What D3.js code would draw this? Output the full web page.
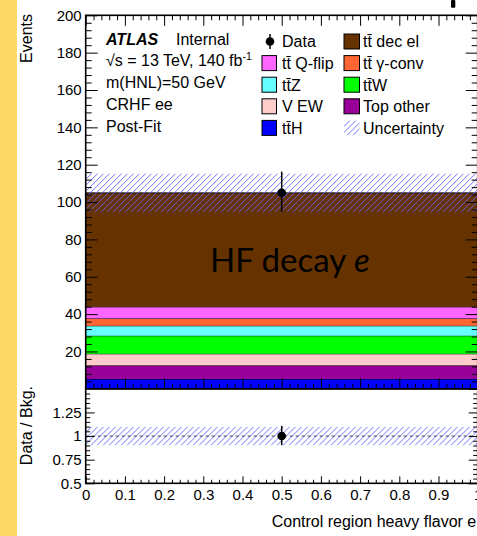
<!DOCTYPE html>
<html><head><meta charset="utf-8">
<script src="https://cdn.jsdelivr.net/npm/d3@7"></script>
<style>
html,body{margin:0;padding:0;background:#fff;}
svg{display:block;font-family:"Liberation Sans",Arial,Helvetica,sans-serif;}
</style></head>
<body>
<script>
// ---------------- data ----------------
const binEdges = [0, 1];
const samples = ["t\u0074\u0304H", "Top other", "V EW", "t\u0074\u0304W", "t\u0074\u0304Z", "t\u0074\u0304 \u03b3-conv", "t\u0074\u0304 Q-flip", "t\u0074\u0304 dec el"];
const sampleValues = [5.25, 7.3, 6.2, 9.65, 5.35, 3.9, 6.25, 61.0];
const sampleColors = ["#0000ff", "#990099", "#ffcccc", "#00ff00", "#66ffff", "#ff6633", "#ff66ff", "#663300"];
const dataX = [0.5];
const dataY = [105];
const dataErrUp = [11.3];
const dataErrDown = [10.2];
const bkgUncertainty = [10.4];
const yTicks = [20, 40, 60, 80, 100, 120, 140, 160, 180, 200];
const ratioTicks = [0.5, 0.75, 1, 1.25];
const xTicks = [0, 0.1, 0.2, 0.3, 0.4, 0.5, 0.6, 0.7, 0.8, 0.9, 1];
const infoLines = ["\u221as = 13 TeV, 140 fb", "m(HNL)=50 GeV", "CRHF ee", "Post-Fit"];
const legendCol1 = ["Data", "t\u0074\u0304 Q-flip", "t\u0074\u0304Z", "V EW", "t\u0074\u0304H"];
const legendCol2 = ["t\u0074\u0304 dec el", "t\u0074\u0304 \u03b3-conv", "t\u0074\u0304W", "Top other", "Uncertainty"];

// ---------------- layout ----------------
const W = 477, H = 536;
const HATCH = "#6464ff";
const svg = d3.select("body").append("svg").attr("width", W).attr("height", H);
const defs = svg.append("defs");
let clipId = 0;
function hatchRect(x0, y0, w, h) {
  const id = "hc" + (clipId++);
  defs.append("clipPath").attr("id", id).append("rect").attr("x", x0).attr("y", y0).attr("width", w).attr("height", h);
  const g = svg.append("g").attr("clip-path", `url(#${id})`);
  const step = 6;
  d3.range(x0 - h - step, x0 + w + step, step).forEach(s => {
    g.append("line").attr("x1", s).attr("y1", y0 + h).attr("x2", s + h).attr("y2", y0)
      .attr("stroke", HATCH).attr("stroke-width", 0.9);
  });
}

// yellow strip
svg.append("rect").attr("x", 0).attr("y", 0).attr("width", 17).attr("height", H).attr("fill", "#ffd966");

const x = d3.scaleLinear().domain([0, 1]).range([85.7, 477.7]);
const y = d3.scaleLinear().domain([0, 200]).range([388.8, 15.3]);
const yr = d3.scaleLinear().domain([0.5, 1.5]).range([483.3, 388.8]);

// ---------------- stack ----------------
let cum = 0;
const stack = sampleValues.map((v, i) => { const o = {lo: cum, hi: cum + v, c: sampleColors[i]}; cum += v; return o; });
const total = cum;
const gS = svg.append("g");
stack.forEach(s => {
  gS.append("rect").attr("x", x(binEdges[0])).attr("width", x(binEdges[1]) - x(binEdges[0]))
    .attr("y", y(s.hi)).attr("height", y(s.lo) - y(s.hi)).attr("fill", s.c);
  gS.append("line").attr("x1", x(binEdges[0])).attr("x2", x(binEdges[1]))
    .attr("y1", y(s.hi)).attr("y2", y(s.hi)).attr("stroke", "#000").attr("stroke-width", 1);
});
// uncertainty band
hatchRect(x(0), y(total + bkgUncertainty[0]), x(1) - x(0), y(total - bkgUncertainty[0]) - y(total + bkgUncertainty[0]));

// HF decay label
const hf = svg.append("text").attr("x", 210).attr("y", 271.5)
  .style("font-family", "Lato, 'Open Sans', sans-serif").style("font-size", "33px").attr("fill", "#000");
hf.append("tspan").text("HF decay ");
hf.append("tspan").style("font-style", "italic").text("e");

// data points
dataX.forEach((d, i) => {
  svg.append("line").attr("x1", x(d)).attr("x2", x(d)).attr("y1", y(dataY[i] + dataErrUp[i])).attr("y2", y(dataY[i] - dataErrDown[i]))
    .attr("stroke", "#000").attr("stroke-width", 1.5);
  svg.append("circle").attr("cx", x(d)).attr("cy", y(dataY[i])).attr("r", 4.3).attr("fill", "#000");
});

// ---------------- ratio panel ----------------
const relUnc = bkgUncertainty[0] / total;
hatchRect(x(0), yr(1 + relUnc), x(1) - x(0), yr(1 - relUnc) - yr(1 + relUnc));
svg.append("line").attr("x1", x(0)).attr("x2", x(1)).attr("y1", yr(1)).attr("y2", yr(1))
  .attr("stroke", "#444").attr("stroke-width", 1).attr("stroke-dasharray", "3,3");
dataX.forEach((d, i) => {
  const r = dataY[i] / total;
  svg.append("line").attr("x1", x(d)).attr("x2", x(d))
    .attr("y1", yr(r + dataErrUp[i] / total)).attr("y2", yr(r - dataErrDown[i] / total))
    .attr("stroke", "#000").attr("stroke-width", 1.5);
  svg.append("circle").attr("cx", x(d)).attr("cy", yr(r)).attr("r", 4.3).attr("fill", "#000");
});

// ---------------- axes ----------------
function styleAxis(g) {
  g.select(".domain").remove();
  g.selectAll(".tick line").attr("stroke", "#000").attr("stroke-width", 1);
  g.selectAll(".tick text").attr("fill", "#000").style("font-size", "15px")
    .style("font-family", "'Liberation Sans', Arial, sans-serif");
}
const minorY = d3.range(0, 201, 4).filter(v => v % 20 !== 0);
svg.append("g").attr("transform", `translate(${x(0)},0)`)
  .call(d3.axisLeft(y).tickValues(yTicks).tickSizeInner(-12).tickSizeOuter(0).tickPadding(4).tickFormat(d3.format("d")))
  .call(styleAxis);
svg.append("g").attr("transform", `translate(${x(0)},0)`)
  .call(d3.axisLeft(y).tickValues(minorY).tickSizeInner(-6).tickSizeOuter(0).tickFormat(""))
  .call(styleAxis);
svg.append("g").attr("transform", `translate(${x(1)},0)`)
  .call(d3.axisRight(y).tickValues(yTicks).tickSizeInner(-12).tickSizeOuter(0).tickFormat(""))
  .call(styleAxis);
svg.append("g").attr("transform", `translate(${x(1)},0)`)
  .call(d3.axisRight(y).tickValues(minorY).tickSizeInner(-6).tickSizeOuter(0).tickFormat(""))
  .call(styleAxis);
const minorX = d3.range(0, 1.0001, 0.02).filter((v, i) => i % 5 !== 0);
svg.append("g").attr("transform", `translate(0,${y(200)})`)
  .call(d3.axisTop(x).tickValues(xTicks).tickSizeInner(-10.5).tickSizeOuter(0).tickFormat(""))
  .call(styleAxis);
svg.append("g").attr("transform", `translate(0,${y(200)})`)
  .call(d3.axisTop(x).tickValues(minorX).tickSizeInner(-5).tickSizeOuter(0).tickFormat(""))
  .call(styleAxis);
svg.append("g").attr("transform", `translate(0,${y(0)})`)
  .call(d3.axisBottom(x).tickValues(xTicks).tickSizeInner(-10.5).tickSizeOuter(0).tickFormat(""))
  .call(styleAxis);
svg.append("g").attr("transform", `translate(0,${y(0)})`)
  .call(d3.axisBottom(x).tickValues(minorX).tickSizeInner(-5).tickSizeOuter(0).tickFormat(""))
  .call(styleAxis);
const ratioMinor = d3.range(0.5, 1.5001, 0.05).filter(v => Math.abs(v * 4 - Math.round(v * 4)) > 1e-6);
svg.append("g").attr("transform", `translate(${x(0)},0)`)
  .call(d3.axisLeft(yr).tickValues(ratioTicks).tickSizeInner(-9).tickSizeOuter(0).tickPadding(4).tickFormat(d => d3.format("")(d)))
  .call(styleAxis);
svg.append("g").attr("transform", `translate(${x(0)},0)`)
  .call(d3.axisLeft(yr).tickValues(ratioMinor).tickSizeInner(-4.5).tickSizeOuter(0).tickFormat(""))
  .call(styleAxis);
svg.append("g").attr("transform", `translate(${x(1)},0)`)
  .call(d3.axisRight(yr).tickValues(ratioTicks.concat([1.5])).tickSizeInner(-9).tickSizeOuter(0).tickFormat(""))
  .call(styleAxis);
svg.append("g").attr("transform", `translate(${x(1)},0)`)
  .call(d3.axisRight(yr).tickValues(ratioMinor).tickSizeInner(-4.5).tickSizeOuter(0).tickFormat(""))
  .call(styleAxis);
svg.append("g").attr("transform", `translate(0,${yr(0.5)})`)
  .call(d3.axisBottom(x).tickValues(xTicks).tickSizeInner(-7).tickSizeOuter(0).tickPadding(6).tickFormat(d => d3.format("")(d)))
  .call(styleAxis);
svg.append("g").attr("transform", `translate(0,${yr(0.5)})`)
  .call(d3.axisBottom(x).tickValues(minorX).tickSizeInner(-3.5).tickSizeOuter(0).tickFormat(""))
  .call(styleAxis);

// frames
svg.append("rect").attr("x", x(0)).attr("y", y(200)).attr("width", x(1) - x(0)).attr("height", y(0) - y(200))
  .attr("fill", "none").attr("stroke", "#000").attr("stroke-width", 1.6);
svg.append("rect").attr("x", x(0)).attr("y", yr(1.5)).attr("width", x(1) - x(0)).attr("height", yr(0.5) - yr(1.5))
  .attr("fill", "none").attr("stroke", "#000").attr("stroke-width", 1.6);

// axis titles
svg.append("text").attr("transform", "translate(31.5,14) rotate(-90)").attr("text-anchor", "end")
  .style("font-size", "16px").text("Events");
svg.append("text").attr("transform", "translate(31.5,386) rotate(-90)").attr("text-anchor", "end")
  .style("font-size", "16px").text("Data / Bkg.");
svg.append("text").attr("x", 271.7).attr("y", 527).style("font-size", "16px").text("Control region heavy flavor e");

// ATLAS label block
const atl = svg.append("text").attr("x", 106).attr("y", 44.5).style("font-size", "16px");
atl.append("tspan").style("font-weight", "bold").style("font-style", "italic").text("ATLAS");
atl.append("tspan").attr("x", 176).text("Internal");
infoLines.forEach((t, i) => {
  const tx = svg.append("text").attr("x", 106).attr("y", 66 + i * 22).style("font-size", "16px").text(t);
  if (i === 0) tx.append("tspan").attr("dy", -6).style("font-size", "10.5px").text("-1");
});

// legend
const rowY = i => 41.5 + i * 21.6;
legendCol1.forEach((t, i) => {
  if (i === 0) {
    svg.append("line").attr("x1", 270).attr("x2", 270).attr("y1", rowY(i) - 7.5).attr("y2", rowY(i) + 7.5).attr("stroke", "#000").attr("stroke-width", 1.5);
    svg.append("circle").attr("cx", 270).attr("cy", rowY(i)).attr("r", 4.3).attr("fill", "#000");
  } else {
    const idx = samples.indexOf(t);
    svg.append("rect").attr("x", 262).attr("y", rowY(i) - 7.5).attr("width", 14.5).attr("height", 15)
      .attr("fill", sampleColors[idx]).attr("stroke", "#000").attr("stroke-width", 1);
  }
  svg.append("text").attr("x", 282).attr("y", rowY(i) + 5.8).style("font-size", "16px").text(t);
});
legendCol2.forEach((t, i) => {
  const idx = samples.indexOf(t);
  if (idx >= 0) {
    svg.append("rect").attr("x", 344).attr("y", rowY(i) - 7.5).attr("width", 15.5).attr("height", 15)
      .attr("fill", sampleColors[idx]).attr("stroke", "#000").attr("stroke-width", 1);
  } else {
    hatchRect(344, rowY(i) - 7.5, 15.5, 15);
  }
  svg.append("text").attr("x", 363).attr("y", rowY(i) + 5.8).style("font-size", "16px").text(t);
});

// cropped mark at top right
svg.append("rect").attr("x", 451).attr("y", 0).attr("width", 4.3).attr("height", 7.7).attr("rx", 1).attr("fill", "#000");
</script>
</body></html>
